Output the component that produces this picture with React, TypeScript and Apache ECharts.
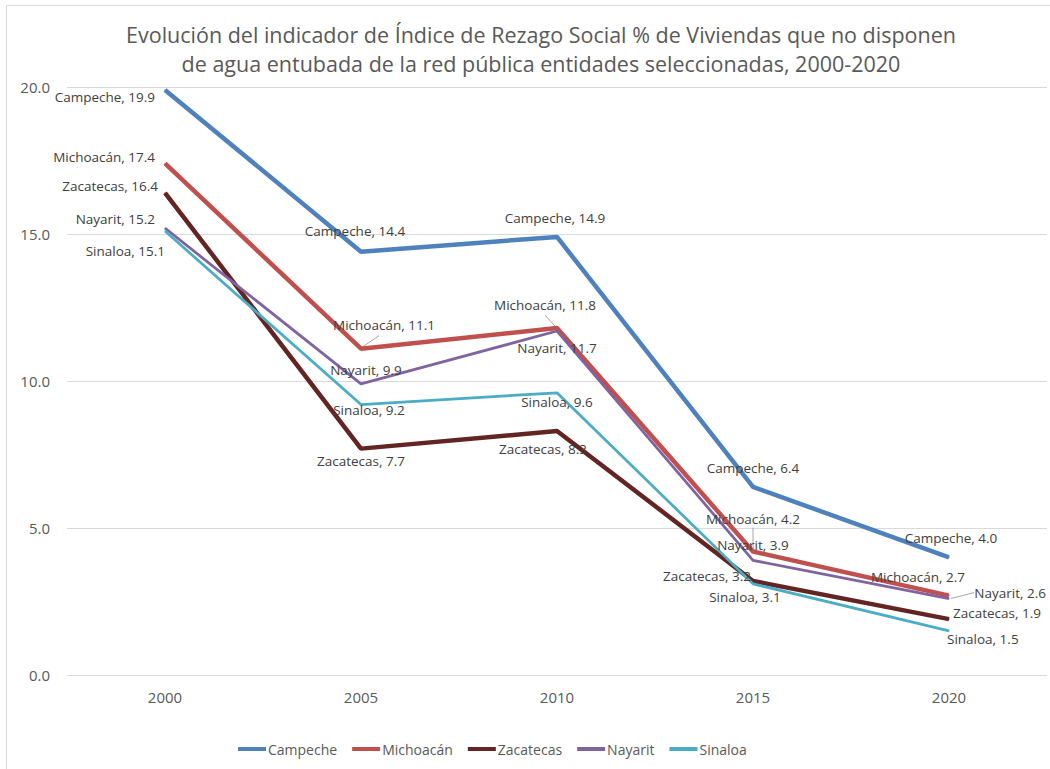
import React, { useEffect, useRef } from "react";
import * as echarts from "echarts";

const years = ["2000", "2005", "2010", "2015", "2020"];
const campeche = [19.9, 14.4, 14.9, 6.4, 4.0];
const michoacan = [17.4, 11.1, 11.8, 4.2, 2.7];
const zacatecas = [16.4, 7.7, 8.3, 3.2, 1.9];
const nayarit = [15.2, 9.9, 11.7, 3.9, 2.6];
const sinaloa = [15.1, 9.2, 9.6, 3.1, 1.5];
const seriesNames = ["Campeche", "Michoacán", "Zacatecas", "Nayarit", "Sinaloa"];
const seriesValues = [campeche, michoacan, zacatecas, nayarit, sinaloa];

const colors = ["#4F81BD", "#C0504D", "#632523", "#8064A2", "#4BACC6"];
const widths = [4.5, 4.5, 4.5, 2.75, 2.75];

// label placement per series per point: [align, dx, dy]
const placements: [string, number, number][][] = [
  [["right", -10, 7], ["center", -6, -21], ["center", -2, -19], ["center", 0, -19], ["center", 2, -19]],
  [["right", -10, -6], ["center", 23, -24], ["center", -12, -23], ["center", 0, -33], ["center", -31, -19]],
  [["right", -7, -7], ["center", 0, 12], ["center", -14, 18], ["right", -2, -5], ["left", 4, -6]],
  [["right", -10, -9], ["center", 5, -14], ["center", 0, 17], ["center", 0, -15], ["right", 97, -6]],
  [["right", 0, 20], ["center", 8, 5], ["center", 0, 9], ["center", -8, 13], ["left", -2, 8]],
];

// leader lines: [seriesIndex, pointIndex, dx1, dy1, dx2, dy2]
const leaders: number[][] = [
  [1, 1, 2, -2, 18, -13],
  [1, 2, -2, -2, -12, -13],
  [1, 3, 0, -3, 0, -24],
  [3, 4, 2, 0, 25, -6],
];

const FONT = '"Open Sans", sans-serif';

export default function App() {
  const ref = useRef<HTMLDivElement>(null);
  useEffect(() => {
    document.body.style.margin = "0";
    const chart = echarts.init(ref.current!, null, { renderer: "svg" });
    const option: any = {
      animation: false,
      backgroundColor: "#ffffff",
      textStyle: { fontFamily: FONT },
      title: {
        text: "Evolución del indicador de Índice de Rezago Social % de Viviendas que no disponen\nde agua entubada de la red pública entidades seleccionadas, 2000-2020",
        left: 536,
        textAlign: "center",
        top: 15,
        textStyle: { fontFamily: FONT, fontSize: 21.5, fontWeight: "normal", color: "#595959", lineHeight: 29 },
      },
      legend: {
        data: seriesNames.map((n, i) => ({ name: n, icon: "rect", itemStyle: { color: colors[i] } })),
        left: 233,
        top: 737,
        itemWidth: 28,
        itemHeight: 4,
        itemGap: 15,
        textStyle: { fontFamily: FONT, fontSize: 14, color: "#595959", padding: [0, 0, 0, -3] },
      },
      grid: { left: 67, right: 3, top: 87, bottom: 94, containLabel: false },
      xAxis: {
        type: "category",
        data: years,
        boundaryGap: true,
        axisLine: { show: false },
        axisTick: { show: false },
        axisLabel: { margin: 14, fontFamily: FONT, fontSize: 15, color: "#595959" },
      },
      yAxis: {
        type: "value",
        min: 0,
        max: 20,
        interval: 5,
        axisLine: { show: false },
        axisTick: { show: false },
        axisLabel: { margin: 17, fontFamily: FONT, fontSize: 15, color: "#595959", formatter: (v: number) => v.toFixed(1) },
        splitLine: { lineStyle: { color: "#D9D9D9", width: 1 } },
      },
      series: seriesNames.map((name, si) => ({
        name,
        type: "line",
        symbol: "circle",
        symbolSize: 1,
        color: colors[si],
        itemStyle: { color: colors[si] },
        lineStyle: { color: colors[si], width: widths[si] },
        data: seriesValues[si].map((v, pi) => {
          const [align, dx, dy] = placements[si][pi];
          return {
            value: v,
            label: {
              show: true,
              position: "inside",
              align,
              verticalAlign: "middle",
              offset: [dx, dy],
              formatter: () => `${name}, ${v.toFixed(1)}`,
              fontFamily: FONT,
              fontSize: 13.5,
              color: "#404040",
            },
          };
        }),
      })),
    };
    chart.setOption(option);
    const graphics: any[] = [
      { type: "line", shape: { x1: 6.5, y1: 5.5, x2: 1050, y2: 5.5 }, style: { stroke: "#D9D9D9", lineWidth: 1 } },
      { type: "line", shape: { x1: 6.5, y1: 5.5, x2: 6.5, y2: 769 }, style: { stroke: "#D9D9D9", lineWidth: 1 } },
    ];
    leaders.forEach(([si, pi, dx1, dy1, dx2, dy2]) => {
      const p = chart.convertToPixel({ gridIndex: 0 }, [pi, seriesValues[si][pi]]) as number[];
      graphics.push({
        type: "line",
        shape: { x1: p[0] + dx1, y1: p[1] + dy1, x2: p[0] + dx2, y2: p[1] + dy2 },
        style: { stroke: "#A6A6A6", lineWidth: 1 },
        z: 1,
      });
    });
    chart.setOption({ graphic: graphics });
    return () => chart.dispose();
  }, []);
  return <div ref={ref} style={{ width: 1050, height: 769 }} />;
}
